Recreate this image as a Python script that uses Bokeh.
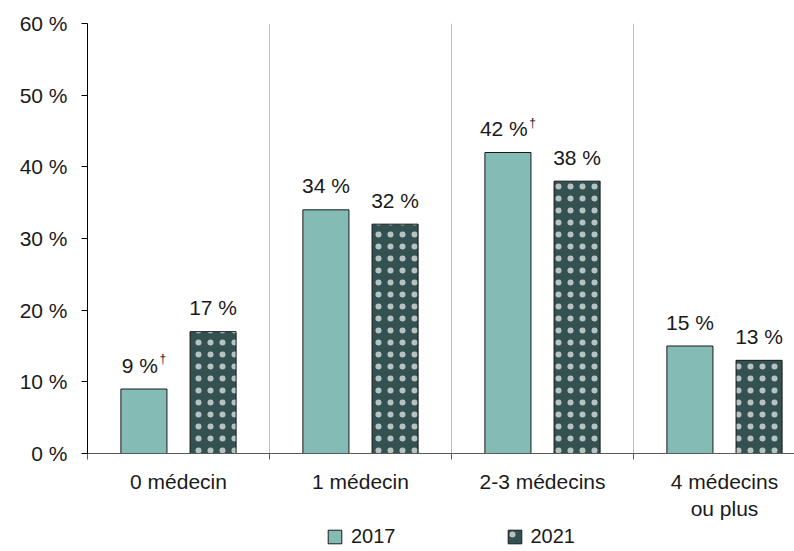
from bokeh.plotting import figure
from bokeh.layouts import column
from bokeh.models import ColumnDataSource, FixedTicker, Legend, LegendItem, Range1d
from bokeh.core.properties import value
from bokeh.transform import dodge
from bokeh.embed import file_html
from bokeh.resources import INLINE

# ---- data ----
categories = ["0 médecin", "1 médecin", "2-3 médecins", "4 médecins\nou plus"]
series_names = ["2017", "2021"]
values_2017 = [9, 34, 42, 15]
values_2021 = [17, 32, 38, 13]
dagger_2017 = [True, False, True, False]
dagger_2021 = [False, False, False, False]
y_ticks = [0, 10, 20, 30, 40, 50, 60]
y_tick_labels = ["0 %", "10 %", "20 %", "30 %", "40 %", "50 %", "60 %"]

# ---- style ----
FONT = "Liberation Sans"
FS = 21
COL_2017 = "#84bcb5"
COL_2021 = "#325150"
TXT = "#1a1a1a"


def est_width(s, fs=FS):
    w = 0.0
    for ch in s:
        if ch.isdigit():
            w += 0.556
        elif ch == " ":
            w += 0.278
        elif ch == "%":
            w += 0.889
        else:
            w += 0.55
    return w * fs


def make_source(vals, flags):
    x = [i + 0.5 for i in range(len(vals))]
    main = [f"{v} %" for v in vals]
    dag_w = 6.7
    gap = 1.5
    main_off, dag_text, dag_off = [], [], []
    for m, f in zip(main, flags):
        w = est_width(m)
        if f:
            total = w + gap + dag_w
            right = total / 2 - dag_w - gap
            main_off.append(right - w / 2)
            dag_off.append(right + gap)
            dag_text.append("†")
        else:
            main_off.append(0.0)
            dag_off.append(0.0)
            dag_text.append("")
    return ColumnDataSource(dict(x=x, v=vals, main=main, main_off=main_off,
                                 dag=dag_text, dag_off=dag_off))


src17 = make_source(values_2017, dagger_2017)
src21 = make_source(values_2021, dagger_2021)

p = figure(width=794, height=523, output_backend="svg", toolbar_location=None,
           x_range=Range1d(0, 707 / 182), y_range=Range1d(0, 60),
           min_border_left=87, min_border_right=0, min_border_top=23, min_border_bottom=70)
p.outline_line_color = None
p.background_fill_color = "white"
p.border_fill_color = "white"

OFF = 0.19
BW = 0.253
style17 = dict(fill_color=COL_2017, line_color=TXT, line_width=1)
style21 = dict(fill_color=COL_2021, line_color=TXT, line_width=1,
               hatch_pattern="dot", hatch_color="white", hatch_scale=12,
               hatch_weight=0.2, hatch_alpha=0.65)

r17 = p.vbar(x=dodge("x", -OFF, range=p.x_range), top="v", width=BW, source=src17, **style17)
r21 = p.vbar(x=dodge("x", OFF, range=p.x_range), top="v", width=BW, source=src21, **style21)

for src, off in ((src17, -OFF), (src21, OFF)):
    p.text(x=dodge("x", off, range=p.x_range), y="v", text="main", source=src,
           x_offset="main_off", y_offset=-24, text_align="center", text_baseline="alphabetic",
           text_font=value(FONT), text_font_size=f"{FS}px", text_color=TXT)
    p.text(x=dodge("x", off, range=p.x_range), y="v", text="dag", source=src,
           x_offset="dag_off", y_offset=-30, text_align="left", text_baseline="alphabetic",
           text_font=value(FONT), text_font_size="12px", text_color=TXT)

# axes
p.yaxis.ticker = FixedTicker(ticks=y_ticks)
p.yaxis.major_label_overrides = {t: l for t, l in zip(y_ticks, y_tick_labels)}
p.yaxis.axis_line_color = "#000000"
p.yaxis.major_tick_line_color = "#000000"
p.yaxis.major_tick_out = 6
p.yaxis.major_tick_in = 0
p.yaxis.minor_tick_line_color = None
p.yaxis.major_label_standoff = 14
p.yaxis.major_label_text_font = FONT
p.yaxis.major_label_text_font_size = f"{FS}px"
p.yaxis.major_label_text_color = TXT

centers = [i + 0.5 for i in range(len(categories))]
p.xaxis.ticker = FixedTicker(ticks=centers, minor_ticks=[0, 1, 2, 3])
p.xaxis.major_label_overrides = {c: l for c, l in zip(centers, categories)}
p.xaxis.axis_line_color = "#595959"
p.xaxis.major_tick_out = 0
p.xaxis.major_tick_in = 0
p.xaxis.minor_tick_out = 6
p.xaxis.minor_tick_in = 0
p.xaxis.minor_tick_line_color = "#595959"
p.xaxis.major_label_standoff = 10
p.xaxis.major_label_text_font = FONT
p.xaxis.major_label_text_font_size = f"{FS}px"
p.xaxis.major_label_text_color = TXT

p.xgrid.ticker = FixedTicker(ticks=[1, 2, 3])
p.xgrid.grid_line_color = "#bfbfbf"
p.xgrid.grid_line_width = 1
p.ygrid.grid_line_color = None

# legend strip (separate figure so the legend is not clipped)
pl = figure(width=794, height=28, output_backend="svg", toolbar_location=None,
            x_axis_location=None, y_axis_location=None,
            x_range=Range1d(0, 1), y_range=Range1d(0, 1),
            min_border_left=0, min_border_right=0, min_border_top=0, min_border_bottom=0)
pl.outline_line_color = None
pl.grid.grid_line_color = None
d17 = pl.vbar(x="x", top="v", width=BW, source=src17, visible=False, **style17)
d21 = pl.vbar(x="x", top="v", width=BW, source=src21, visible=False, **style21)

legend = Legend(items=[LegendItem(label=series_names[0], renderers=[d17], index=0),
                       LegendItem(label=series_names[1], renderers=[d21], index=0)],
                orientation="horizontal", location=(239, 3),
                glyph_width=17, glyph_height=17, label_height=17,
                label_standoff=8, spacing=110, padding=0, margin=0,
                border_line_color=None, background_fill_alpha=0,
                label_text_font=FONT, label_text_font_size="20px",
                label_text_color=TXT)
pl.add_layout(legend, "center")

layout = column(p, pl, spacing=0)
open("out.html", "w").write(file_html(layout, INLINE))
